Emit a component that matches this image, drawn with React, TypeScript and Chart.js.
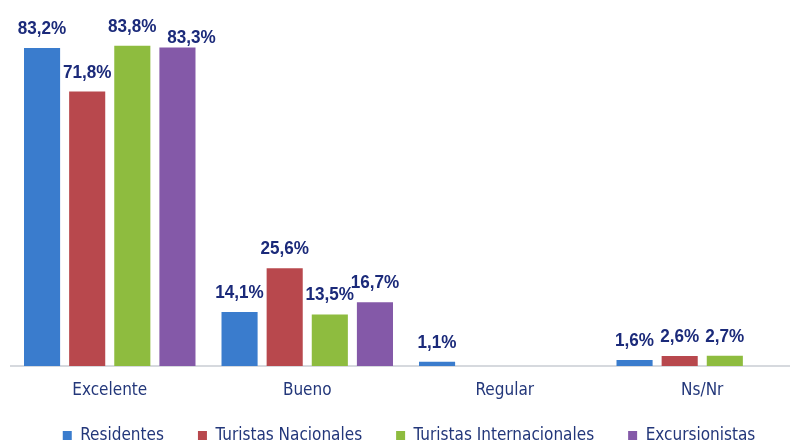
import React, { useEffect, useRef } from "react";
import { Chart, registerables } from "chart.js";

Chart.register(...registerables);

const categories = ["Excelente", "Bueno", "Regular", "Ns/Nr"];
const seriesNames = ["Residentes", "Turistas Nacionales", "Turistas Internacionales", "Excursionistas"];
const residentes = [83.2, 14.1, 1.1, 1.6];
const nacionales = [71.8, 25.6, null, 2.6];
const internacionales = [83.8, 13.5, null, 2.7];
const excursionistas = [83.3, 16.7, null, null];
const colors = ["#3A7CCD", "#B8484D", "#8EBC3F", "#8459A8"];

const FONT = '"DejaVu Sans Condensed", "Liberation Sans", sans-serif';
const LABEL_FONT = '"Liberation Sans", Arial, sans-serif';
const LABEL_COLOR = "#1B2A7A";
const TEXT_COLOR = "#23377A";

const labelPlugin = {
  id: "valueLabels",
  afterDatasetsDraw(chart: any) {
    const ctx = chart.ctx;
    chart.data.datasets.forEach((ds: any, di: number) => {
      const meta = chart.getDatasetMeta(di);
      meta.data.forEach((bar: any, i: number) => {
        const v = ds.data[i];
        if (v === null || v === undefined) return;
        let dx = 0;
        let dy = 0;
        // the last label of the first group is nudged aside in the original
        if (di === 3 && i === 0) {
          dx = 14;
          dy = 9;
        }
        const txt = v.toFixed(1).replace(".", ",") + "%";
        ctx.save();
        ctx.translate(bar.x + dx, bar.y - 14 + dy);
        ctx.scale(0.9, 1);
        ctx.font = `bold 19px ${LABEL_FONT}`;
        ctx.fillStyle = LABEL_COLOR;
        ctx.textAlign = "center";
        ctx.textBaseline = "alphabetic";
        ctx.fillText(txt, 0, 0);
        ctx.restore();
      });
    });
  },
};

// category names drawn under the axis at the x scale's own tick positions
const categoryLabelPlugin = {
  id: "categoryLabels",
  afterLayout(chart: any) {
    if (chart.legend) {
      chart.legend.left += 3;
      chart.legend.right += 3;
    }
  },
  afterDraw(chart: any) {
    const ctx = chart.ctx;
    const xs = chart.scales.x;
    ctx.save();
    ctx.font = `17px ${FONT}`;
    ctx.fillStyle = TEXT_COLOR;
    ctx.textAlign = "center";
    ctx.textBaseline = "middle";
    xs.ticks.forEach((_t: any, i: number) => {
      ctx.fillText(xs.getLabelForValue(i), xs.getPixelForTick(i), chart.chartArea.bottom + 25);
    });
    ctx.restore();
  },
};

export default function App() {
  const ref = useRef<HTMLCanvasElement>(null);
  useEffect(() => {
    if (!ref.current) return;
    const data = [residentes, nacionales, internacionales, excursionistas];
    const chart = new Chart(ref.current, {
      type: "bar",
      data: {
        labels: categories,
        datasets: seriesNames.map((name, k) => ({
          label: name,
          data: data[k] as any,
          backgroundColor: colors[k],
          borderWidth: 0,
          categoryPercentage: 0.914,
          barPercentage: 0.8,
        })),
      },
      options: {
        animation: false,
        responsive: false,
        maintainAspectRatio: false,
        layout: { padding: { top: 22, left: 11, right: 11, bottom: -11 } },
        plugins: {
          legend: {
            position: "bottom",
            labels: {
              boxWidth: 9,
              boxHeight: 9,
              padding: 34,
              color: TEXT_COLOR,
              font: { family: FONT, size: 17 },
            },
          },
          tooltip: { enabled: false },
        },
        scales: {
          x: {
            grid: { display: false, drawTicks: false },
            border: { display: true, color: "#D6D9DE", width: 2 },
            ticks: { display: false },
            afterFit: (scale: any) => {
              scale.height = 27;
            },
          },
          y: {
            display: false,
            min: 0,
            max: 90,
          },
        },
      },
      plugins: [labelPlugin, categoryLabelPlugin],
    });
    return () => chart.destroy();
  }, []);
  return (
    <div style={{ position: "fixed", left: 0, top: 0, width: 790, height: 443, overflow: "hidden", background: "#fff" }}>
      <canvas ref={ref} width={812} height={443} style={{ display: "block" }} />
    </div>
  );
}
